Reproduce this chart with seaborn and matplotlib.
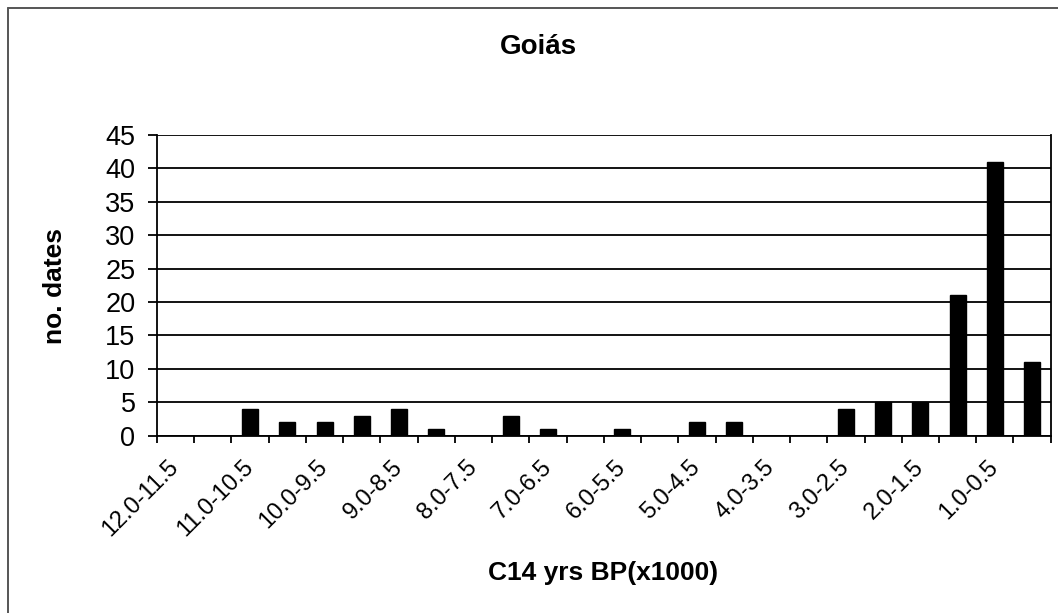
import matplotlib
matplotlib.use("Agg")
import matplotlib.pyplot as plt
import matplotlib.lines as mlines
from matplotlib.transforms import ScaledTranslation
import seaborn as sns
import pandas as pd
import numpy as np

categories = ["12.0-11.5", "11.5-11.0", "11.0-10.5", "10.5-10.0", "10.0-9.5", "9.5-9.0",
              "9.0-8.5", "8.5-8.0", "8.0-7.5", "7.5-7.0", "7.0-6.5", "6.5-6.0",
              "6.0-5.5", "5.5-5.0", "5.0-4.5", "4.5-4.0", "4.0-3.5", "3.5-3.0",
              "3.0-2.5", "2.5-2.0", "2.0-1.5", "1.5-1.0", "1.0-0.5", "0.5-0.0"]
counts = [0, 0, 4, 2, 2, 3, 4, 1, 0, 3, 1, 0, 1, 0, 2, 2, 0, 0, 4, 5, 5, 21, 41, 11]
y_ticks = [0, 5, 10, 15, 20, 25, 30, 35, 40, 45]

sns.set_style("white")
plt.rcParams['font.family'] = ['Liberation Sans', 'DejaVu Sans']
plt.rcParams['text.color'] = 'black'
plt.rcParams['xtick.color'] = 'black'
plt.rcParams['ytick.color'] = 'black'
plt.rcParams['axes.labelcolor'] = 'black'

W, H = 1058, 613
fig = plt.figure(figsize=(W / 100, H / 100), dpi=100)
ax = fig.add_axes([157 / W, 1 - 435.7 / H, (1050.7 - 157) / W, (435.7 - 135) / H])

df = pd.DataFrame({"cat": categories, "n": counts})
sns.barplot(data=df, x="cat", y="n", color="black", width=0.43, saturation=1,
            edgecolor="black", ax=ax, zorder=3)

ax.set_ylim(0, 45)
ax.set_xlim(-0.5, len(categories) - 0.5)
ax.set_yticks(y_ticks)
ax.set_yticklabels([str(v) for v in y_ticks], fontsize=19.5, color="black")
ax.yaxis.grid(True, color="black", linewidth=1.3, zorder=0)
ax.set_axisbelow(True)

# major ticks at category boundaries (no labels), minor ticks at labelled category centers
ax.set_xticks(np.arange(-0.5, len(categories), 1.0))
ax.set_xticklabels([])
lab_pos = list(range(0, len(categories), 2))
ax.set_xticks(lab_pos, minor=True)
ax.set_xticklabels([categories[i] for i in lab_pos], minor=True, rotation=45,
                   ha="right", va="center", rotation_mode="anchor", fontsize=17, color="black")
shift = ScaledTranslation(-0.15, 0, fig.dpi_scale_trans)
for lab in ax.get_xticklabels(minor=True):
    lab.set_transform(lab.get_transform() + shift)
ax.tick_params(axis="x", which="major", direction="out", length=5, width=1.3, color="black", bottom=True)
ax.tick_params(axis="x", which="minor", length=0, pad=20)
ax.tick_params(axis="y", direction="out", length=6.5, width=1.3, color="black", left=True, pad=9)

for s in ["left", "right", "bottom"]:
    ax.spines[s].set_visible(True)
    ax.spines[s].set_color("black")
    ax.spines[s].set_linewidth(1.3)
ax.spines["top"].set_visible(False)

ax.set_xlabel("")
ax.set_ylabel("")
fig.text(603 / W, 1 - 573 / H, "C14 yrs BP(x1000)", ha="center", va="center",
         fontsize=19, fontweight="bold", color="black")
fig.text(55 / W, 1 - 286 / H, "no. dates", ha="center", va="center", rotation=90,
         fontsize=19, fontweight="bold", color="black")
fig.text(538 / W, 1 - 47 / H, "Goiás", ha="center", va="center",
         fontsize=20, fontweight="bold", color="black")

# outer chart border (top and left visible)
fig.add_artist(mlines.Line2D([8 / W, 1.0], [1 - 8 / H, 1 - 8 / H], color="#555555", linewidth=1.4))
fig.add_artist(mlines.Line2D([8 / W, 8 / W], [0.0, 1 - 8 / H], color="#555555", linewidth=1.4))

fig.savefig("out.png", dpi=100)
